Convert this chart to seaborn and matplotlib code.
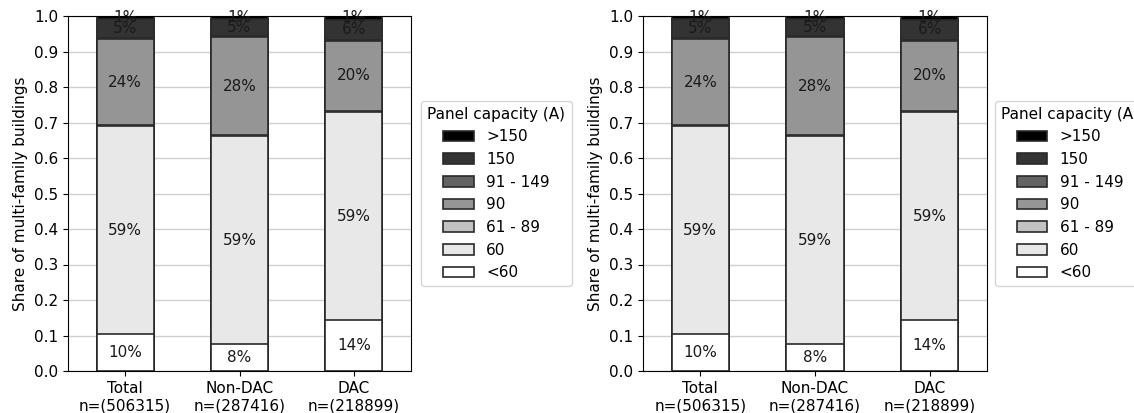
import matplotlib
matplotlib.use("Agg")
import matplotlib.pyplot as plt
from matplotlib.patches import Patch
import numpy as np
import pandas as pd
import seaborn as sns

# ---- data ----
groups = ["Total\nn=(506315)", "Non-DAC\nn=(287416)", "DAC\nn=(218899)"]
categories = ["<60", "60", "61 - 89", "90", "91 - 149", "150", ">150"]
share_lt60 = [0.104, 0.076, 0.143]
share_60 = [0.586, 0.586, 0.587]
share_61_89 = [0.002, 0.002, 0.002]
share_90 = [0.243, 0.276, 0.198]
share_91_149 = [0.003, 0.003, 0.003]
share_150 = [0.053, 0.049, 0.057]
share_gt150 = [0.009, 0.008, 0.010]
colors = ["#ffffff", "#e8e8e8", "#c2c2c2", "#959595", "#636363", "#333333", "#000000"]
legend_title = "Panel capacity (A)"
y_label = "Share of multi-family buildings"

series = [share_lt60, share_60, share_61_89, share_90, share_91_149, share_150, share_gt150]
vals = np.array(series)            # shape (n_cat, n_group)
cum = np.cumsum(vals, axis=0)

FS = 11
fig = plt.figure(figsize=(11.34, 4.13), dpi=100)
ax_pos = [[68 / 1134, 1 - 371 / 413, 343 / 1134, 355 / 413],
          [643 / 1134, 1 - 371 / 413, 344 / 1134, 355 / 413]]
legend_x = [1.03, 1.023]

for k in range(2):
    ax = fig.add_axes(ax_pos[k])
    ax.set_axisbelow(True)
    ax.yaxis.grid(True, color="#d0d0d0", linewidth=1.0, zorder=0)
    # draw cumulative bars from the top category down so lower ones overlay
    for i in range(len(categories) - 1, -1, -1):
        df = pd.DataFrame({"group": groups, "value": cum[i]})
        sns.barplot(data=df, x="group", y="value", order=groups, color=colors[i],
                    width=0.5, edgecolor="#2a2a2a", linewidth=1.2,
                    saturation=1, ax=ax, zorder=2)
    # percentage labels
    for i in range(len(categories)):
        for j in range(len(groups)):
            v = vals[i, j]
            if v >= 0.005:
                yc = cum[i, j] - v / 2
                ax.text(j, yc, f"{v * 100:.0f}%", ha="center", va="center",
                        fontsize=FS, color="#1a1a1a", zorder=5)
    ax.set_ylim(0, 1.0)
    ax.set_xlim(-0.5, 2.5)
    ax.set_yticks(np.arange(0, 1.01, 0.1))
    ax.set_yticklabels([f"{t:.1f}" for t in np.arange(0, 1.01, 0.1)])
    ax.set_xlabel("")
    ax.set_ylabel(y_label, fontsize=FS)
    ax.tick_params(labelsize=FS)
    handles = [Patch(facecolor=colors[i], edgecolor="#2a2a2a", linewidth=1.2,
                     label=categories[i]) for i in range(len(categories) - 1, -1, -1)]
    ax.legend(handles=handles, title=legend_title, loc="center left",
              bbox_to_anchor=(legend_x[k], 0.5), borderaxespad=0,
              fontsize=FS, title_fontsize=FS)

fig.savefig("out.png", dpi=100)
